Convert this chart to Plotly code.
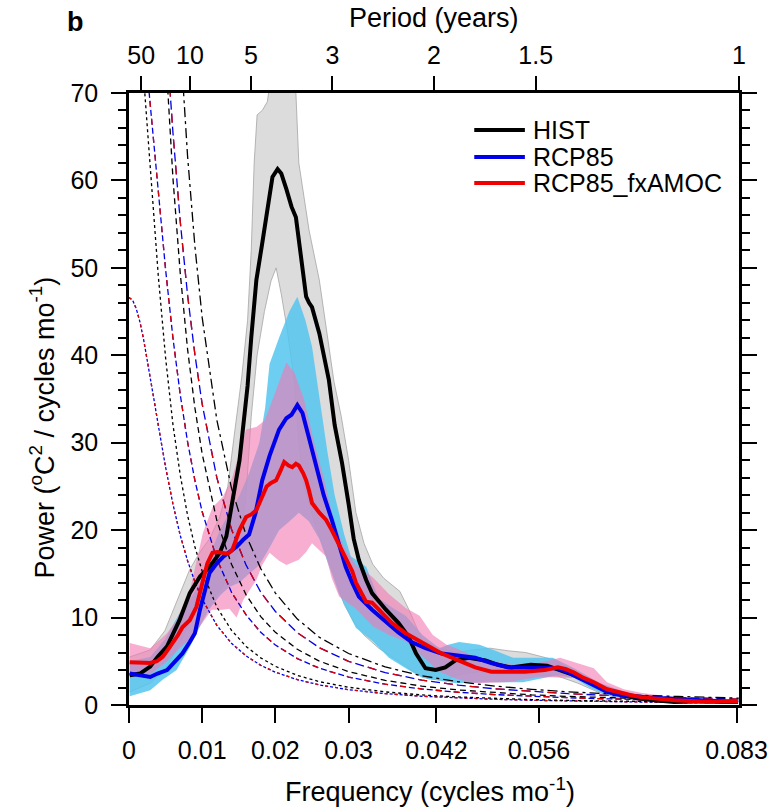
import plotly.graph_objects as go

# ---------------- data ----------------
# Red-noise (Markov) spectra and confidence curves, common frequency grid
FREQ_NULL = [0, 0.0005, 0.001, 0.0015, 0.002, 0.0025, 0.003, 0.0035, 0.004, 0.005, 0.006, 0.007,
             0.008, 0.009, 0.010, 0.012, 0.014, 0.016, 0.018, 0.020, 0.023, 0.026, 0.030, 0.035,
             0.040, 0.045, 0.050, 0.055, 0.060, 0.065, 0.070, 0.075, 0.0833]
HIST_MARKOV = [84.9, 83.9, 81.2, 77.0, 71.8, 66.1, 60.2, 54.5, 49.1, 39.7, 32.1, 26.3, 21.7, 18.1,
               15.3, 11.2, 8.55, 6.70, 5.39, 4.42, 3.39, 2.67, 2.03, 1.50, 1.15, 0.92, 0.74, 0.62,
               0.52, 0.45, 0.38, 0.34, 0.27]
HIST_CI95 = [159.6, 157.7, 152.7, 144.8, 135.0, 124.3, 113.2, 102.5, 92.3, 74.6, 60.3, 49.4, 40.7,
             34.0, 28.7, 21.1, 16.1, 12.6, 10.1, 8.31, 6.37, 5.02, 3.82, 2.82, 2.16, 1.72, 1.40,
             1.16, 0.98, 0.84, 0.72, 0.63, 0.51]
HIST_CI99 = [246, 243, 235, 223, 208, 192, 175, 158, 142, 115, 93.1, 76.1, 62.8, 52.5, 44.3, 32.6,
             24.8, 19.4, 15.6, 12.8, 9.83, 7.74, 5.89, 4.35, 3.34, 2.66, 2.16, 1.79, 1.51, 1.29,
             1.11, 0.97, 0.79]
RCP_MARKOV = [46.6, 46.3, 45.3, 43.8, 41.8, 39.5, 37.1, 34.5, 32.0, 27.2, 23.0, 19.4, 16.5, 14.1,
              12.1, 9.11, 7.06, 5.61, 4.54, 3.75, 2.90, 2.30, 1.75, 1.30, 1.00, 0.80, 0.65, 0.54,
              0.45, 0.39, 0.34, 0.29, 0.24]
RCP_CI95 = [85.3, 84.7, 82.9, 80.2, 76.5, 72.3, 67.9, 63.1, 58.6, 49.8, 42.0, 35.5, 30.1, 25.7,
            22.1, 16.7, 12.9, 10.3, 8.31, 6.86, 5.31, 4.21, 3.20, 2.38, 1.83, 1.46, 1.19, 0.98,
            0.83, 0.71, 0.61, 0.54, 0.44]
RCP_CI99 = [132.8, 132.0, 129.1, 124.8, 119.1, 112.6, 105.7, 98.3, 91.2, 77.5, 65.5, 55.3, 46.9,
            40.1, 34.4, 26.0, 20.1, 16.0, 12.9, 10.7, 8.27, 6.56, 4.99, 3.71, 2.85, 2.27, 1.85,
            1.53, 1.29, 1.11, 0.96, 0.84, 0.68]

# Ensemble-mean spectra
HIST_F = [0.0001, 0.0015, 0.0029, 0.0039, 0.0052, 0.0063, 0.0069, 0.0083, 0.0097, 0.0110, 0.0124,
          0.0133, 0.0141, 0.0151, 0.0158, 0.0162, 0.0167, 0.0174, 0.0182, 0.0189, 0.0196, 0.0203,
          0.0208, 0.0215, 0.0222, 0.0228, 0.0235, 0.0242, 0.0246, 0.0250, 0.0260, 0.0266, 0.0273,
          0.0281, 0.0291, 0.0300, 0.0307, 0.0314, 0.0324, 0.0332, 0.0351, 0.0368, 0.0382, 0.0392,
          0.0405, 0.0419, 0.0432, 0.0446, 0.0464, 0.0487, 0.0504, 0.0522, 0.0549, 0.0571, 0.0589,
          0.0602, 0.0616, 0.0634, 0.0653, 0.0674, 0.0699, 0.0722, 0.0745, 0.0769, 0.0790, 0.0810,
          0.0832]
HIST_P = [3.4, 3.6, 4.4, 5.5, 6.7, 8.5, 9.7, 12.8, 14.7, 15.8, 17.4, 19.3, 23.4, 28.0, 33.4, 36.5,
          42.0, 48.6, 52.8, 56.5, 60.4, 61.3, 60.8, 59.0, 57.0, 55.8, 51.0, 46.7, 46.0, 45.5, 42.5,
          40.0, 37.2, 32.0, 27.7, 23.0, 19.0, 16.6, 14.3, 12.8, 10.9, 9.4, 7.8, 5.9, 4.2, 4.0, 4.3,
          5.1, 5.4, 5.1, 4.6, 4.3, 4.6, 4.5, 4.0, 3.6, 3.1, 2.4, 1.7, 1.1, 0.7, 0.5, 0.35, 0.4,
          0.45, 0.35, 0.35]

RCP85_F = [0.0001, 0.0015, 0.0029, 0.0039, 0.0052, 0.0063, 0.0073, 0.0083, 0.0090, 0.0097, 0.0103,
           0.0110, 0.0120, 0.0128, 0.0137, 0.0147, 0.0156, 0.0164, 0.0173, 0.0182, 0.0192, 0.0205,
           0.0215, 0.0222, 0.0230, 0.0237, 0.0246, 0.0256, 0.0266, 0.0277, 0.0287, 0.0296, 0.0305,
           0.0314, 0.0332, 0.0351, 0.0368, 0.0386, 0.0405, 0.0427, 0.0450, 0.0473, 0.0495, 0.0518,
           0.0541, 0.0568, 0.0586, 0.0598, 0.0613, 0.0625, 0.0640, 0.0653, 0.0674, 0.0699, 0.0722,
           0.0745, 0.0767, 0.0790, 0.0810, 0.0832]
RCP85_P = [3.6, 3.4, 3.2, 3.6, 4.0, 5.0, 5.9, 7.2, 8.2, 10.9, 13.0, 15.1, 16.2, 16.9, 17.5, 18.1,
           18.9, 19.5, 22.0, 25.7, 28.5, 31.5, 32.8, 33.2, 34.3, 33.4, 30.5, 27.2, 24.0, 21.2, 18.5,
           15.8, 14.0, 12.4, 10.9, 9.5, 8.3, 7.2, 6.5, 5.9, 5.7, 5.4, 4.8, 4.3, 4.3, 4.3, 4.2, 3.8,
           3.2, 2.7, 2.0, 1.5, 1.1, 0.9, 0.8, 0.7, 0.6, 0.5, 0.4, 0.35]

FXAMOC_F = [0.0001, 0.0015, 0.0029, 0.0038, 0.0046, 0.0053, 0.0060, 0.0067, 0.0073, 0.0083, 0.0092,
            0.0101, 0.0107, 0.0114, 0.0121, 0.0128, 0.0135, 0.0141, 0.0147, 0.0151, 0.0160, 0.0167,
            0.0174, 0.0181, 0.0188, 0.0194, 0.0201, 0.0207, 0.0212, 0.0218, 0.0223, 0.0228, 0.0232,
            0.0238, 0.0242, 0.0246, 0.0250, 0.0260, 0.0269, 0.0277, 0.0287, 0.0296, 0.0305, 0.0310,
            0.0317, 0.0324, 0.0332, 0.0341, 0.0359, 0.0378, 0.0405, 0.0427, 0.0450, 0.0473, 0.0495,
            0.0518, 0.0541, 0.0568, 0.0586, 0.0597, 0.0608, 0.0621, 0.0635, 0.0653, 0.0666, 0.0682,
            0.0699, 0.0722, 0.0745, 0.0767, 0.0790, 0.0810, 0.0832]
FXAMOC_P = [4.9, 4.9, 4.8, 5.0, 5.5, 6.3, 7.1, 8.0, 8.9, 9.7, 11.2, 14.3, 16.2, 17.4, 17.5, 17.4,
            17.3, 17.7, 19.0, 20.0, 21.5, 21.8, 22.3, 23.8, 25.0, 25.4, 25.7, 26.8, 27.8, 27.4, 27.2,
            27.6, 27.4, 26.5, 25.7, 24.5, 23.1, 22.0, 21.2, 20.0, 18.3, 17.0, 15.3, 14.0, 12.9, 11.8,
            11.7, 10.9, 9.4, 8.2, 6.9, 5.9, 5.1, 4.3, 3.8, 3.8, 3.8, 4.0, 4.3, 4.1, 3.7, 3.1, 2.6,
            1.8, 1.5, 1.2, 0.9, 0.7, 0.55, 0.45, 0.35, 0.4, 0.45]

# Ensemble spread (upper / lower bounds)
HIST_UP_F = [0.0001, 0.0029, 0.0049, 0.0069, 0.0083, 0.0097, 0.0110, 0.0124, 0.0135, 0.0144, 0.0154,
             0.0162, 0.0167, 0.0171, 0.0175, 0.0182, 0.0189, 0.0194, 0.0205, 0.0219, 0.0228, 0.0232,
             0.0239, 0.0246, 0.0260, 0.0269, 0.0280, 0.0290, 0.0300, 0.0310, 0.0321, 0.0333, 0.0348,
             0.0370, 0.0383, 0.0401, 0.0424, 0.0447, 0.0470, 0.0493, 0.0518, 0.0542, 0.0579, 0.0608,
             0.0634, 0.0653, 0.0674, 0.0699, 0.0745, 0.0790, 0.0832]
HIST_UP = [5.5, 6.3, 8.5, 12.5, 15.5, 17.5, 19.0, 21.5, 25.0, 31.0, 37.5, 44.0, 52.0, 62.0, 67.5,
           68.0, 69.0, 72.0, 78.0, 75.0, 70.0, 62.0, 58.0, 54.3, 48.6, 43.2, 37.0, 33.0, 28.0, 22.0,
           18.5, 16.1, 14.5, 13.0, 10.8, 7.3, 6.5, 6.0, 6.3, 6.5, 6.2, 6.0, 5.2, 3.8, 2.8, 2.1, 1.4,
           0.9, 0.6, 0.5, 0.5]
HIST_LO_F = [0.0001, 0.0029, 0.0049, 0.0069, 0.0083, 0.0097, 0.0110, 0.0124, 0.0137, 0.0151, 0.0160,
             0.0167, 0.0175, 0.0185, 0.0194, 0.0201, 0.0208, 0.0216, 0.0226, 0.0232, 0.0239, 0.0253,
             0.0266, 0.0280, 0.0294, 0.0307, 0.0321, 0.0341, 0.0368, 0.0389, 0.0409, 0.0430, 0.0450,
             0.0477, 0.0504, 0.0545, 0.0586, 0.0613, 0.0640, 0.0667, 0.0722, 0.0832]
HIST_LO = [1.5, 2.5, 4.0, 7.0, 9.5, 11.0, 12.0, 13.0, 15.0, 18.0, 24.0, 33.0, 40.0, 45.0, 48.5, 50.0,
           47.0, 43.0, 37.0, 30.0, 25.0, 21.0, 18.0, 15.0, 11.5, 9.5, 8.0, 6.5, 5.0, 3.8, 3.0, 2.8,
           3.5, 3.8, 3.5, 3.5, 3.3, 2.5, 1.5, 0.8, 0.3, 0.2]

RCP85_UP_F = [0.0001, 0.0029, 0.0049, 0.0069, 0.0083, 0.0097, 0.0110, 0.0124, 0.0137, 0.0151, 0.0164,
              0.0178, 0.0186, 0.0192, 0.0205, 0.0219, 0.0230, 0.0241, 0.0250, 0.0260, 0.0271, 0.0281,
              0.0294, 0.0303, 0.0324, 0.0341, 0.0362, 0.0378, 0.0401, 0.0424, 0.0436, 0.0451, 0.0479,
              0.0498, 0.0525, 0.0561, 0.0579, 0.0608, 0.0644, 0.0674, 0.0699, 0.0745, 0.0790, 0.0832]
RCP85_UP = [5.0, 5.5, 7.5, 10.5, 12.0, 14.0, 17.0, 20.0, 22.0, 24.0, 26.5, 30.0, 34.0, 39.0, 42.0,
            45.0, 46.7, 44.0, 41.0, 35.0, 29.0, 24.0, 19.5, 17.0, 15.8, 12.2, 11.0, 10.2, 8.0, 6.5,
            6.9, 7.2, 6.9, 6.3, 5.4, 5.4, 5.4, 4.2, 2.5, 1.6, 1.1, 0.8, 0.6, 0.5]
RCP85_LO_F = [0.0001, 0.0029, 0.0046, 0.0065, 0.0083, 0.0097, 0.0110, 0.0124, 0.0137, 0.0151, 0.0164,
              0.0178, 0.0192, 0.0205, 0.0219, 0.0232, 0.0246, 0.0260, 0.0273, 0.0287, 0.0310, 0.0333,
              0.0355, 0.0378, 0.0401, 0.0424, 0.0447, 0.0493, 0.0538, 0.0585, 0.0608, 0.0629, 0.0653,
              0.0699, 0.0745, 0.0832]
RCP85_LO = [1.0, 1.7, 2.9, 4.0, 6.6, 9.0, 11.0, 12.5, 13.5, 14.0, 15.0, 16.0, 18.0, 20.0, 21.0, 22.0,
            21.0, 19.0, 16.0, 12.7, 8.8, 7.3, 5.4, 4.2, 3.1, 2.8, 2.5, 2.6, 2.6, 3.4, 3.1, 2.0, 1.1,
            0.6, 0.3, 0.2]

FXAMOC_UP_F = [0.0001, 0.0029, 0.0052, 0.0065, 0.0083, 0.0101, 0.0114, 0.0128, 0.0141, 0.0151, 0.0160,
               0.0174, 0.0185, 0.0192, 0.0205, 0.0215, 0.0226, 0.0239, 0.0253, 0.0266, 0.0280, 0.0294,
               0.0310, 0.0333, 0.0355, 0.0378, 0.0397, 0.0415, 0.0434, 0.0447, 0.0470, 0.0498, 0.0525,
               0.0559, 0.0589, 0.0608, 0.0635, 0.0653, 0.0676, 0.0699, 0.0745, 0.0790, 0.0832]
FXAMOC_UP = [7.1, 6.5, 8.2, 9.7, 13.0, 19.7, 22.6, 23.8, 26.0, 29.0, 31.5, 31.8, 32.5, 34.0, 37.0,
             39.2, 38.0, 35.0, 30.0, 26.0, 21.0, 18.0, 16.0, 14.6, 12.7, 11.1, 10.2, 8.0, 6.9, 6.5,
             5.6, 5.0, 4.6, 4.8, 5.4, 4.9, 4.2, 2.6, 1.8, 1.4, 0.9, 0.7, 0.6]
FXAMOC_LO_F = [0.0001, 0.0029, 0.0052, 0.0069, 0.0083, 0.0097, 0.0113, 0.0128, 0.0137, 0.0147, 0.0156,
               0.0164, 0.0174, 0.0182, 0.0192, 0.0205, 0.0215, 0.0232, 0.0242, 0.0250, 0.0260, 0.0269,
               0.0277, 0.0287, 0.0310, 0.0333, 0.0355, 0.0378, 0.0401, 0.0424, 0.0447, 0.0470, 0.0515,
               0.0561, 0.0608, 0.0631, 0.0653, 0.0699, 0.0745, 0.0832]
FXAMOC_LO = [3.5, 3.5, 5.0, 6.5, 7.5, 9.0, 10.9, 10.9, 11.0, 10.0, 12.0, 13.0, 14.3, 16.0, 17.4, 16.5,
             16.0, 16.6, 17.5, 18.5, 17.7, 17.0, 14.5, 12.4, 11.0, 9.0, 8.0, 7.3, 5.5, 3.8, 3.0, 2.5,
             2.6, 3.2, 3.1, 2.2, 1.3, 0.7, 0.4, 0.2]

# Axis ticks
FREQ_TICKS = [0, 0.01, 0.02, 0.03, 0.042, 0.056, 0.083]
FREQ_TICK_LABELS = ["0", "0.01", "0.02", "0.03", "0.042", "0.056", "0.083"]
PERIOD_YEARS = [50, 10, 5, 3, 2, 1.5, 1]
PERIOD_LABELS = ["50", "10", "5", "3", "2", "1.5", "1"]
SERIES_NAMES = ["HIST", "RCP85", "RCP85_fxAMOC"]
XMAX = 1 / 12

FONT = "Liberation Sans, Arial, Helvetica, sans-serif"

fig = go.Figure()


def band(fu, up, fl, lo, fill, edge, ew):
    fig.add_trace(go.Scatter(x=list(fu) + list(fl)[::-1], y=list(up) + list(lo)[::-1],
                             mode="lines", fill="toself", fillcolor=fill,
                             line=dict(color=edge, width=ew), hoverinfo="skip", showlegend=False))


band(HIST_UP_F, HIST_UP, HIST_LO_F, HIST_LO, "rgb(220,220,220)", "rgb(165,165,165)", 0.8)
band(RCP85_UP_F, RCP85_UP, RCP85_LO_F, RCP85_LO, "rgba(85,198,238,0.85)", "rgba(0,0,0,0)", 0)
band(FXAMOC_UP_F, FXAMOC_UP, FXAMOC_LO_F, FXAMOC_LO, "rgba(242,120,178,0.6)", "rgba(0,0,0,0)", 0)


def nullcurve(y, color, dash, width=1.3):
    fig.add_trace(go.Scatter(x=FREQ_NULL, y=y, mode="lines",
                             line=dict(color=color, width=width, dash=dash),
                             hoverinfo="skip", showlegend=False))


# RCP85 / fxAMOC curves (overlapping blue & red dashes)
nullcurve(RCP_MARKOV, "rgb(0,0,230)", "3px,2px")
nullcurve(RCP_MARKOV, "rgb(220,0,0)", "3px,7px")
nullcurve(RCP_CI95, "rgb(0,0,230)", "6px,3px")
nullcurve(RCP_CI95, "rgb(220,0,0)", "6px,12px")
nullcurve(RCP_CI99, "rgb(0,0,230)", "9px,4px")
nullcurve(RCP_CI99, "rgb(220,0,0)", "9px,17px")
# HIST curves
nullcurve(HIST_MARKOV, "black", "3px,3px")
nullcurve(HIST_CI95, "black", "6px,4px")
nullcurve(HIST_CI99, "black", "10px,4px,3px,4px")

# Main spectra
for f, p, c in [(HIST_F, HIST_P, "black"), (RCP85_F, RCP85_P, "rgb(0,0,235)"),
                (FXAMOC_F, FXAMOC_P, "rgb(240,0,0)")]:
    fig.add_trace(go.Scatter(x=f, y=p, mode="lines", line=dict(color=c, width=4),
                             hoverinfo="skip", showlegend=False))

# invisible trace to activate the top (period) axis
fig.add_trace(go.Scatter(x=[XMAX], y=[0], xaxis="x2", mode="lines",
                         line=dict(width=0), hoverinfo="skip", showlegend=False))

period_freq = [1 / (12 * p) for p in PERIOD_YEARS]

fig.update_layout(
    width=780, height=808,
    margin=dict(l=129, r=38, t=93, b=103),
    paper_bgcolor="white", plot_bgcolor="white",
    font=dict(family=FONT, size=25, color="black"),
    showlegend=False,
    xaxis=dict(range=[0, XMAX], tickmode="array", tickvals=FREQ_TICKS, ticktext=FREQ_TICK_LABELS,
               ticks="outside", ticklen=15, tickwidth=2.2, tickcolor="black",
               showline=True, linewidth=2.5, linecolor="black", showgrid=False, zeroline=False,
               tickfont=dict(size=25), ticklabelstandoff=6),
    xaxis2=dict(range=[0, XMAX], overlaying="x", side="top", anchor="y", tickmode="array",
                tickvals=period_freq, ticktext=PERIOD_LABELS, ticks="outside", ticklen=14,
                tickwidth=2.2, tickcolor="black", showline=True, linewidth=2.5, linecolor="black",
                showgrid=False, zeroline=False, tickfont=dict(size=25), ticklabelstandoff=2),
    yaxis=dict(range=[0, 70], tickmode="linear", tick0=0, dtick=10, ticks="outside", ticklen=15,
               tickwidth=2.2, tickcolor="black", showline=True, linewidth=2.5, linecolor="black",
               mirror="ticks", showgrid=False, zeroline=False, tickfont=dict(size=25),
               ticklabelstandoff=8,
               minor=dict(dtick=2, ticks="outside", ticklen=8, tickwidth=1.5, tickcolor="black",
                          showgrid=False)),
)

annotations = [
    dict(text="Period (years)", x=0.5008, y=1.1225, xref="paper", yref="paper",
         xanchor="center", yanchor="middle", showarrow=False, font=dict(size=27)),
    dict(text="Frequency (cycles mo<sup>-1</sup>)", x=0.494, y=-0.139, xref="paper", yref="paper",
         xanchor="center", yanchor="middle", showarrow=False, font=dict(size=27)),
    dict(text="Power (<sup>o</sup>C<sup>2</sup> / cycles mo<sup>-1</sup>)", x=-0.142, y=0.454,
         xref="paper", yref="paper", xanchor="center", yanchor="middle", textangle=-90,
         showarrow=False, font=dict(size=27)),
    dict(text="<b>b</b>", x=-0.088, y=1.116, xref="paper", yref="paper",
         xanchor="center", yanchor="middle", showarrow=False, font=dict(size=27)),
]

# legend (drawn as key lines + labels)
leg_colors = ["black", "rgb(0,0,235)", "rgb(240,0,0)"]
leg_y = [0.9395, 0.8954, 0.8529]
shapes = []
for name, c, yy in zip(SERIES_NAMES, leg_colors, leg_y):
    shapes.append(dict(type="line", xref="paper", yref="paper", x0=0.566, x1=0.649, y0=yy, y1=yy,
                       line=dict(color=c, width=4)))
    annotations.append(dict(text=name, x=0.659, y=yy, xref="paper", yref="paper",
                            xanchor="left", yanchor="middle", showarrow=False,
                            font=dict(size=25)))

fig.update_layout(annotations=annotations, shapes=shapes)

fig.write_html("out.html", config={"displayModeBar": False},
               post_script="document.body.style.margin='0px';")
